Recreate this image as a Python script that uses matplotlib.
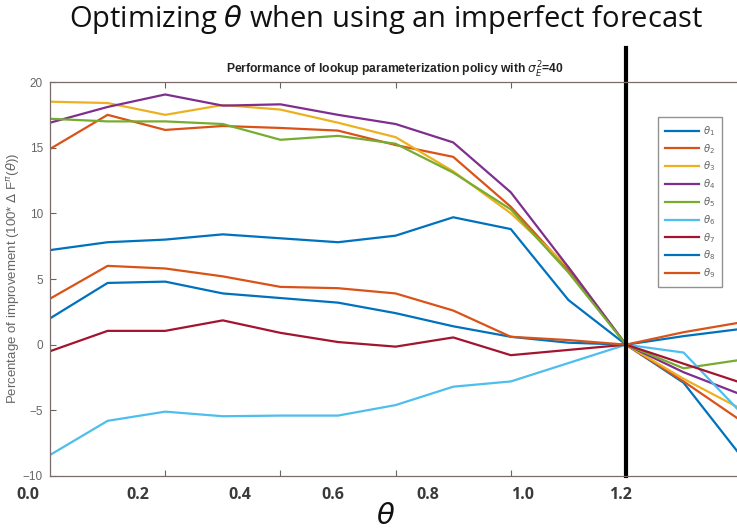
import matplotlib
matplotlib.use("Agg")
import matplotlib.pyplot as plt

# theta values of the lookup table (one point every 0.12)
theta = [0.0, 0.12, 0.24, 0.36, 0.48, 0.60, 0.72, 0.84, 0.96, 1.08, 1.20, 1.32, 1.44]

theta1 = [7.2, 7.8, 8.0, 8.4, 8.1, 7.8, 8.3, 9.7, 8.8, 3.4, 0.0, -2.9, -8.5]
theta2 = [14.9, 17.5, 16.35, 16.65, 16.5, 16.3, 15.2, 14.3, 10.5, 5.7, 0.0, -2.8, -5.8]
theta3 = [18.5, 18.4, 17.5, 18.25, 17.9, 16.9, 15.8, 13.2, 10.0, 5.9, 0.0, -2.6, -4.9]
theta4 = [16.9, 18.1, 19.05, 18.2, 18.3, 17.5, 16.8, 15.4, 11.6, 5.9, 0.0, -2.1, -3.8]
theta5 = [17.2, 17.0, 17.0, 16.8, 15.6, 15.9, 15.3, 13.1, 10.3, 5.5, 0.0, -1.8, -1.15]
theta6 = [-8.4, -5.8, -5.1, -5.45, -5.4, -5.4, -4.6, -3.2, -2.8, -1.4, 0.0, -0.6, -5.2]
theta7 = [-0.5, 1.05, 1.05, 1.85, 0.9, 0.2, -0.15, 0.55, -0.8, -0.4, 0.0, -1.45, -2.9]
theta8 = [2.0, 4.7, 4.8, 3.9, 3.55, 3.2, 2.4, 1.4, 0.6, 0.15, 0.0, 0.65, 1.2]
theta9 = [3.5, 6.0, 5.8, 5.2, 4.4, 4.3, 3.9, 2.6, 0.6, 0.35, 0.0, 0.95, 1.7]

series = [theta1, theta2, theta3, theta4, theta5, theta6, theta7, theta8, theta9]
labels = [r'$\theta_%d$' % (i + 1) for i in range(9)]
colors = ['#0072BD', '#D95319', '#EDB120', '#7E2F8E', '#77AC30',
          '#4DBEEE', '#A2142F', '#0072BD', '#D95319']

slide_ticks = ['0.0', '0.2', '0.4', '0.6', '0.8', '1.0', '1.2']
slide_tick_px = [28, 138, 240, 333, 428, 523, 620]

W, H = 737, 532
fig = plt.figure(figsize=(W / 100, H / 100), dpi=100)

# matlab axes (cropped on the right)
ax = fig.add_axes([50 / W, 1 - 476 / H, (W - 50) / W, (476 - 82) / H])
for y, c, lab in zip(series, colors, labels):
    ax.plot(theta, y, color=c, lw=1.6, label=lab)

ax.set_xlim(0, (W - 50) / 480)
ax.set_ylim(-10, 20)
ax.set_yticks([-10, -5, 0, 5, 10, 15, 20])
ax.set_xticks([0.24, 0.48, 0.72, 0.96, 1.2])
ax.set_xticklabels([])
ax.tick_params(direction='in', length=4, width=0.8, colors='#666666',
               labelsize=8.5, top=True, right=False, pad=5)
for t in ax.get_yticklabels():
    t.set_family('Liberation Sans')
for s in ['left', 'bottom', 'top']:
    ax.spines[s].set_color('#7a6a6a')
    ax.spines[s].set_linewidth(0.9)
ax.spines['right'].set_visible(False)

fig.text(13 / W, 1 - 278 / H,
         r'Percentage of improvement (100* $\Delta$ F$^{\pi}$($\theta$))',
         rotation=90, ha='center', va='center', fontsize=9.5,
         family='Liberation Sans', color='#666666')

# vertical marker at theta = 1.2
ax.axvline(1.2, ymin=0, ymax=(476 - 48) / (476 - 82), color='black', lw=3, clip_on=False)

leg = ax.legend(loc='upper left', bbox_to_anchor=((653 - 50) / 687, (476 - 112) / 394),
                fontsize=7.2, frameon=True, fancybox=False, handlelength=3.4,
                labelspacing=0.4, borderpad=0.7, handletextpad=0.4)
leg.get_frame().set_edgecolor('#777777')
leg.get_frame().set_linewidth(1.0)
for t in leg.get_texts():
    t.set_color('#666666')

fig.text(395 / W, 1 - 70 / H,
         r'Performance of lookup parameterization policy with $\sigma_E^2$=40',
         ha='center', va='center', fontsize=8.7, fontweight='bold',
         family='Liberation Sans', color='#222222')

# slide overlay texts
fig.text(386 / W, 1 - 20 / H, r'Optimizing $\theta$ when using an imperfect forecast',
         ha='center', va='center', fontsize=21, family='Open Sans', color='#111111')
for lab, px in zip(slide_ticks, slide_tick_px):
    fig.text(px / W, 1 - 495 / H, lab, ha='center', va='center', fontsize=11.5,
             fontweight='bold', family='Open Sans', color='#3a3a3a')
fig.text(386 / W, 1 - 516 / H, r'$\theta$', ha='center', va='center', fontsize=21, color='#111111')

fig.savefig('out.png', dpi=100)
